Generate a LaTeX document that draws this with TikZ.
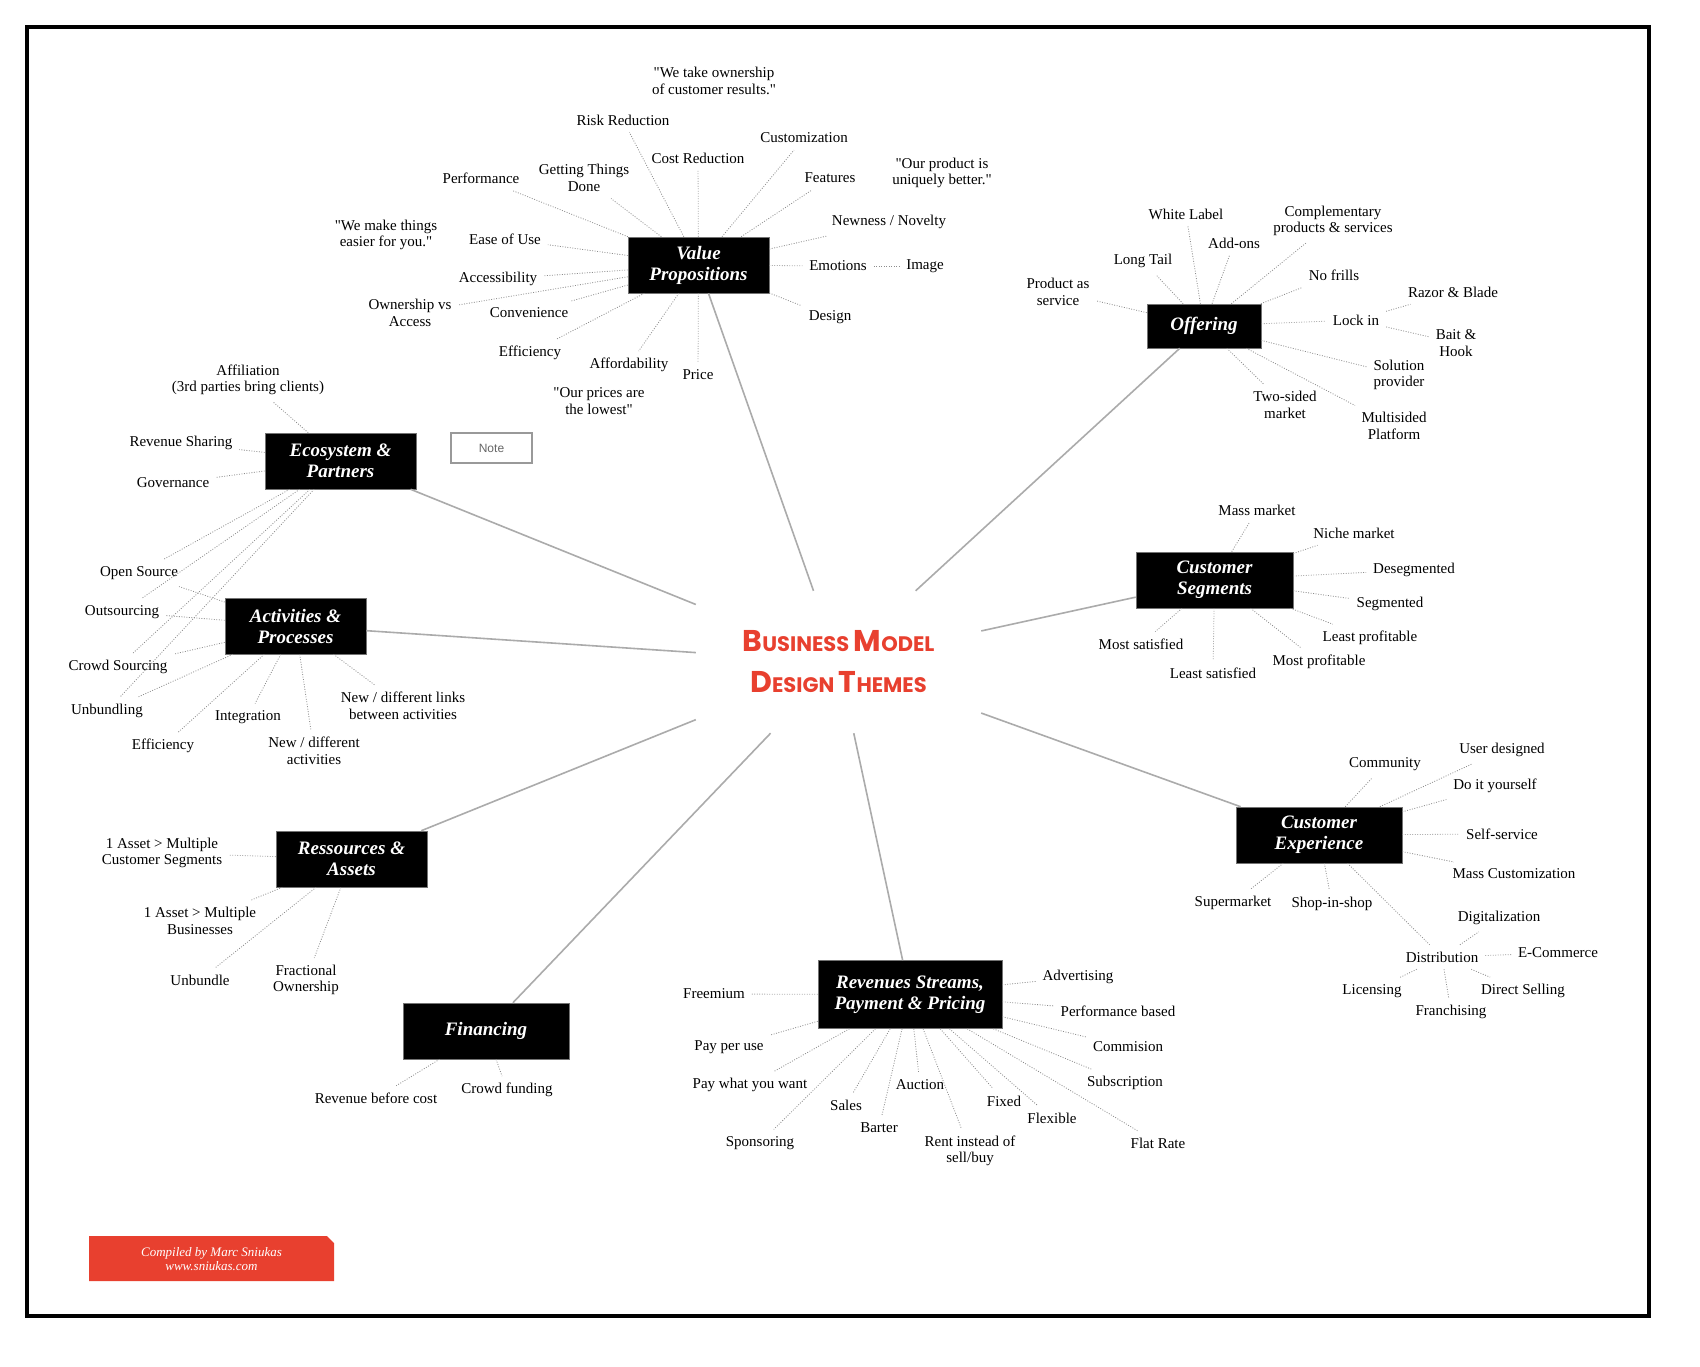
\documentclass[tikz,border=0pt]{standalone}
\usepackage{fontspec}
\setmainfont{Liberation Serif}[Ligatures=TeXOff]
\setsansfont{Liberation Sans}
\newfontfamily\bmtitlefont{Poppins}
\definecolor{bmred}{HTML}{E8402F}
\definecolor{linegray}{HTML}{ABABAB}
\definecolor{dotgray}{HTML}{8C8C8C}
\newcommand\bmcap[2]{{\fontsize{30}{41}\selectfont #1}{\fontsize{21}{41}\selectfont #2}}
\newcommand\bmq{\char34\relax}
\begin{document}
\begin{tikzpicture}[x=1pt,y=-1pt,
  themebox/.style={fill=black, draw=black!55, line width=0.6pt, text=white,
    font=\fontsize{19}{21}\selectfont\bfseries\itshape, align=center, inner sep=0pt},
  lbl/.style={font=\fontsize{15}{16.5}\selectfont, text=black, align=center, inner sep=2pt, outer sep=5pt},
  dotline/.style={draw=dotgray, line width=0.8pt, dash pattern=on 0.9pt off 1.6pt},
  mainline/.style={draw=linegray, line width=1.6pt}]

\useasboundingbox (0,0) rectangle (1700,1366);
\fill[white] (0,0) rectangle (1700,1366);
\draw[line width=3.5pt] (27,27) rectangle (1649,1316);

% ---- title
\node[minimum width=285pt, minimum height=142pt, inner sep=0pt, text=bmred, align=center,
  font=\bmtitlefont\bfseries\fontsize{21}{41}\selectfont] (T) at (838.5,662)
  {\bmcap{B}{USINESS} \bmcap{M}{ODEL}\\\bmcap{D}{ESIGN} \bmcap{T}{HEMES}};

% ---- theme boxes
\node[themebox, minimum width=141pt, minimum height=56pt] (VP) at (698.5,265) {Value\\Propositions};
\node[themebox, minimum width=114pt, minimum height=44pt] (OF) at (1204,326) {Offering};
\node[themebox, minimum width=157pt, minimum height=56pt] (CS) at (1214.5,580) {Customer\\Segments};
\node[themebox, minimum width=166pt, minimum height=56pt] (CE) at (1319,835) {Customer\\Experience};
\node[themebox, minimum width=184pt, minimum height=68pt] (REV) at (910,994.5) {Revenues Streams,\\Payment \& Pricing};
\node[themebox, minimum width=166pt, minimum height=56pt] (FIN) at (486,1031) {Financing};
\node[themebox, minimum width=151pt, minimum height=56pt] (RES) at (351.5,859) {Ressources \&\\Assets};
\node[themebox, minimum width=141pt, minimum height=56pt] (ACT) at (295.5,626) {Activities \&\\Processes};
\node[themebox, minimum width=151pt, minimum height=56pt] (ECO) at (340.5,461) {Ecosystem \&\\Partners};

\node[draw=black!40, line width=1.2pt, minimum width=81pt, minimum height=30pt, inner sep=0pt,
  font=\sffamily\fontsize{12}{14}\selectfont, text=black!60] (note) at (491.5,448) {Note};

% ---- main connectors
\foreach \n in {VP,OF,CS,CE,REV,FIN,RES,ACT,ECO} \draw[mainline] (T) -- (\n);

% ---- Value Propositions
\node[lbl] (vpq1) at (714,81) {\bmq We take ownership\\of customer results.\bmq};
\node[lbl] (risk) at (623,120) {Risk Reduction};
\node[lbl] (custom) at (804,138) {Customization};
\node[lbl] (cost) at (698,158) {Cost Reduction};
\node[lbl] (vpq2) at (942,173) {\bmq Our product is\\uniquely better.\bmq};
\node[lbl] (perf) at (481,178) {Performance};
\node[lbl] (gtd) at (584,178) {Getting Things\\Done};
\node[lbl] (feat) at (830,178) {Features};
\node[lbl] (newness) at (889,222) {Newness / Novelty};
\node[lbl] (vpq3) at (386,235) {\bmq We make things\\easier for you.\bmq};
\node[lbl] (ease) at (505,239) {Ease of Use};
\node[lbl] (emo) at (838,266) {Emotions};
\node[lbl] (image) at (925,266) {Image};
\node[lbl] (access) at (498,279) {Accessibility};
\node[lbl] (owner) at (410,313) {Ownership vs\\Access};
\node[lbl] (conven) at (529,313) {Convenience};
\node[lbl] (design) at (830,317) {Design};
\node[lbl] (vpeff) at (530,353) {Efficiency};
\node[lbl] (afford) at (629,365) {Affordability};
\node[lbl] (price) at (698,375) {Price};
\node[lbl] (vpq4) at (599,401) {\bmq Our prices are\\the lowest\bmq};
\foreach \n in {risk,custom,cost,perf,gtd,feat,newness,ease,emo,access,owner,conven,design,vpeff,afford,price}
  \draw[dotline] (VP) -- (\n);
\draw[dotline] (emo) -- (image);

% ---- Offering
\node[lbl] (white) at (1186,214) {White Label};
\node[lbl] (compl) at (1333,221) {Complementary\\products \& services};
\node[lbl] (addons) at (1234,243) {Add-ons};
\node[lbl] (longtail) at (1143,261) {Long Tail};
\node[lbl] (nofrills) at (1334,275) {No frills};
\node[lbl] (pas) at (1058,292) {Product as\\service};
\node[lbl] (razor) at (1453,292) {Razor \& Blade};
\node[lbl] (lockin) at (1356,320) {Lock in};
\node[lbl] (bait) at (1456,343) {Bait \&\\Hook};
\node[lbl] (solution) at (1399,375) {Solution\\provider};
\node[lbl] (twosided) at (1285,405) {Two-sided\\market};
\node[lbl] (multi) at (1394,426) {Multisided\\Platform};
\foreach \n in {white,compl,addons,longtail,nofrills,pas,lockin,solution,twosided,multi}
  \draw[dotline] (OF) -- (\n);
\draw[dotline] (lockin) -- (razor);
\draw[dotline] (lockin) -- (bait);

% ---- Customer Segments
\node[lbl] (mass) at (1257,510) {Mass market};
\node[lbl] (niche) at (1354,533) {Niche market};
\node[lbl] (deseg) at (1414,570) {Desegmented};
\node[lbl] (seg) at (1390,604) {Segmented};
\node[lbl] (leastprof) at (1370,638) {Least profitable};
\node[lbl] (mostprof) at (1319,662) {Most profitable};
\node[lbl] (leastsat) at (1213,673) {Least satisfied};
\node[lbl] (mostsat) at (1141,644) {Most satisfied};
\foreach \n in {mass,niche,deseg,seg,leastprof,mostprof,leastsat,mostsat}
  \draw[dotline] (CS) -- (\n);

% ---- Customer Experience
\node[lbl] (userdes) at (1502,750) {User designed};
\node[lbl] (community) at (1385,764) {Community};
\node[lbl] (diy) at (1495,786) {Do it yourself};
\node[lbl] (selfserv) at (1502,834) {Self-service};
\node[lbl] (masscust) at (1514,874) {Mass Customization};
\node[lbl] (supermarket) at (1233,903) {Supermarket};
\node[lbl] (shopinshop) at (1332,904) {Shop-in-shop};
\node[lbl] (digital) at (1499,918) {Digitalization};
\node[lbl] (distrib) at (1442,957) {Distribution};
\node[lbl] (ecom) at (1558,953) {E-Commerce};
\node[lbl] (licensing) at (1372,991) {Licensing};
\node[lbl] (directsell) at (1523,991) {Direct Selling};
\node[lbl] (franch) at (1451,1012) {Franchising};
\foreach \n in {userdes,community,diy,selfserv,masscust,supermarket,shopinshop,distrib}
  \draw[dotline] (CE) -- (\n);
\foreach \n in {digital,ecom,licensing,directsell,franch}
  \draw[dotline] (distrib) -- (\n);

% ---- Revenues
\node[lbl] (freemium) at (714,994) {Freemium};
\node[lbl] (advert) at (1078,977) {Advertising};
\node[lbl] (perfbased) at (1118,1011) {Performance based};
\node[lbl] (payperuse) at (729,1047) {Pay per use};
\node[lbl] (commision) at (1128,1047) {Commision};
\node[lbl] (paywhat) at (750,1085) {Pay what you want};
\node[lbl] (auction) at (920,1085) {Auction};
\node[lbl] (subscr) at (1125,1083) {Subscription};
\node[lbl] (sales) at (846,1105) {Sales};
\node[lbl] (fixed) at (1004,1101) {Fixed};
\node[lbl] (flexible) at (1052,1118) {Flexible};
\node[lbl] (barter) at (879,1128) {Barter};
\node[lbl] (sponsor) at (760,1143) {Sponsoring};
\node[lbl] (rent) at (970,1151) {Rent instead of\\sell/buy};
\node[lbl] (flatrate) at (1158,1143) {Flat Rate};
\foreach \n in {freemium,advert,perfbased,payperuse,commision,paywhat,auction,subscr,sales,fixed,flexible,barter,sponsor,rent,flatrate}
  \draw[dotline] (REV) -- (\n);

% ---- Financing
\node[lbl] (revbc) at (376,1098) {Revenue before cost};
\node[lbl] (crowdfund) at (507,1090) {Crowd funding};
\foreach \n in {revbc,crowdfund} \draw[dotline] (FIN) -- (\n);

% ---- Ressources & Assets
\node[lbl] (ras1) at (162,853) {1 Asset > Multiple\\Customer Segments};
\node[lbl] (ras2) at (200,921) {1 Asset > Multiple\\Businesses};
\node[lbl] (unbundle) at (200,980) {Unbundle};
\node[lbl] (fractional) at (306,980) {Fractional\\Ownership};
\foreach \n in {ras1,ras2,unbundle,fractional} \draw[dotline] (RES) -- (\n);

% ---- Ecosystem & Activities
\node[lbl] (affil) at (248,380) {Affiliation\\(3rd parties bring clients)};
\node[lbl] (revshare) at (181,443) {Revenue Sharing};
\node[lbl] (gov) at (173,483) {Governance};
\node[lbl] (opensrc) at (139,573) {Open Source};
\node[lbl] (outsrc) at (122,612) {Outsourcing};
\node[lbl] (crowdsrc) at (118,667) {Crowd Sourcing};
\node[lbl] (unbundling) at (107,711) {Unbundling};
\node[lbl] (acteff) at (163,746) {Efficiency};
\node[lbl] (integ) at (248,717) {Integration};
\node[lbl] (newlinks) at (403,706) {New / different links\\between activities};
\node[lbl] (newact) at (314,751) {New / different\\activities};
\foreach \n in {affil,revshare,gov,opensrc,outsrc,crowdsrc,unbundling}
  \draw[dotline] (ECO) -- (\n);
\foreach \n in {opensrc,outsrc,crowdsrc,unbundling,acteff,integ,newact,newlinks}
  \draw[dotline] (ACT) -- (\n);

% ---- footer
\fill[bmred] (89,1236) -- (327,1236) -- (334,1243) -- (334,1281) -- (89,1281) -- cycle;
\node[text=white, font=\fontsize{13}{14}\selectfont\itshape, align=center, inner sep=0pt] (footer)
  at (211.5,1259) {Compiled by Marc Sniukas\\www.sniukas.com};
\end{tikzpicture}
\end{document}
